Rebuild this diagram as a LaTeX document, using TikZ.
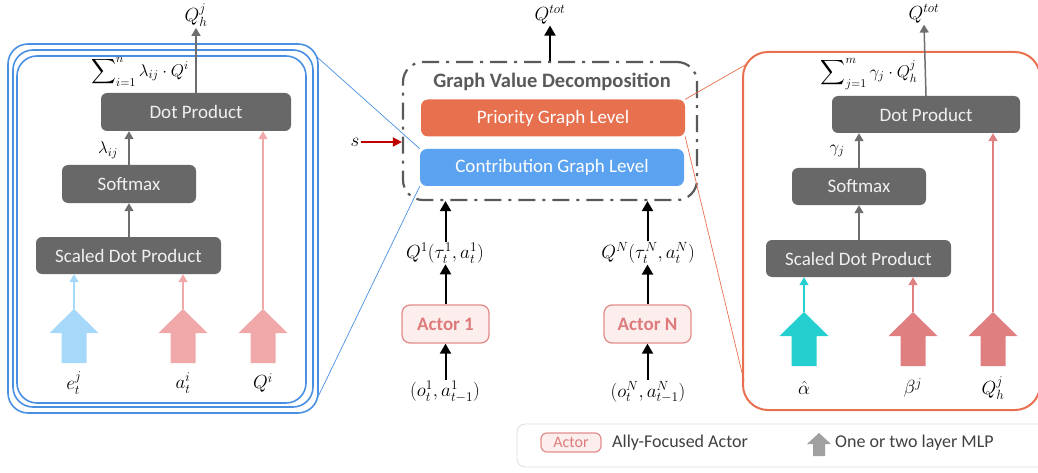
\documentclass[tikz,border=0pt]{standalone}
\usepackage{fix-cm}
\usepackage{amsmath}
\usepackage{fontspec}
\setmainfont{Carlito}
\usetikzlibrary{arrows.meta}

\definecolor{procgray}{HTML}{686868}
\definecolor{arrowgray}{HTML}{6E6E6E}
\definecolor{panelblue}{HTML}{4A90E2}
\definecolor{panelorange}{HTML}{E9704F}
\definecolor{prioorange}{HTML}{E7704F}
\definecolor{contribblue}{HTML}{5BA2F0}
\definecolor{gvdgray}{HTML}{595959}
\definecolor{actorfill}{HTML}{FDEEEE}
\definecolor{actorline}{HTML}{E38C8C}
\definecolor{actortext}{HTML}{DE7B7B}
\definecolor{skyblue}{HTML}{A6D8FA}
\definecolor{rosepink}{HTML}{F0A8A8}
\definecolor{tealcyan}{HTML}{26CFCF}
\definecolor{salmonred}{HTML}{E07F7F}
\definecolor{staterred}{HTML}{C00000}
\definecolor{legendline}{HTML}{DCDCDC}
\definecolor{legendarrow}{HTML}{A0A0A0}
\definecolor{legendtext}{HTML}{404040}

% filled block arrow (one or two layer MLP): name, x, top y, bottom y, colour
\newcommand\mlparrow[5]{%
  \fill[#5] (#2,#3) -- ({#2+24.5},{#3+24}) -- ({#2+12.5},{#3+24}) -- ({#2+12.5},#4)
    -- ({#2-12.5},#4) -- ({#2-12.5},{#3+24}) -- ({#2-24.5},{#3+24}) -- cycle;
  \coordinate (#1) at (#2,#3);}

\begin{document}
\begin{tikzpicture}[x=1pt,y=-1pt,
  proc/.style={fill=procgray, rounded corners=6pt, text=white!94!black,
    font=\fontsize{19}{22}\selectfont, inner sep=0pt},
  level/.style={rounded corners=7pt, text=white, font=\fontsize{19}{22}\selectfont,
    inner sep=0pt, minimum width=264, minimum height=37},
  actorbox/.style={draw=actorline, line width=1.3pt, fill=actorfill, rounded corners=8pt,
    text=actortext, font=\fontsize{19}{22}\selectfont\bfseries, inner sep=0pt,
    minimum width=87, minimum height=38},
  garrow/.style={draw=arrowgray, line width=1.5pt, -{Triangle[length=8pt,width=9pt]}},
  tarrow/.style={line width=1.3pt, -{Triangle[length=8pt,width=9pt]}},
  barrow/.style={draw=black, line width=2pt, -{Triangle[length=10pt,width=11pt]}},
  mlabel/.style={font=\fontsize{19}{23}\selectfont, inner sep=1pt},
  slabel/.style={font=\fontsize{17}{21}\selectfont, inner sep=1pt},
  zoomline/.style={line width=0.7pt}]
\useasboundingbox (0,0) rectangle (1038,473);

% ---------- contribution graph level panel (left) ----------
\draw[panelblue, line width=1.6pt, rounded corners=20pt] (8,44) rectangle (318,413);
\draw[panelblue, line width=1.6pt, rounded corners=20pt] (13,50) rectangle (313,407);
\draw[panelblue, line width=1.6pt, rounded corners=20pt] (17,56) rectangle (306,403);

\node[proc, minimum width=190, minimum height=38] (dpL) at (196,112) {Dot Product};
\node[proc, minimum width=134, minimum height=38] (smL) at (129,184) {Softmax};
\node[proc, minimum width=185, minimum height=37] (sdpL) at (128.5,255.5) {Scaled Dot Product};

\node[mlabel] (qhL) at (196,15) {$Q_h^{j}$};
\draw[garrow] (dpL.north) -- (qhL.south);
\node[slabel] (sumL) at (140,72) {$\displaystyle\sum\nolimits_{i=1}^{n}\lambda_{ij}\cdot Q^{i}$};
\draw[garrow] (smL.north) -- (smL.north |- dpL.south);
\node[slabel] (lamL) at (108,150) {$\lambda_{ij}$};
\draw[garrow] (sdpL.north -| smL.north) -- (smL.south);

\mlparrow{eL}{74}{309}{363}{skyblue}
\mlparrow{aL}{183}{309}{363}{rosepink}
\mlparrow{qL}{263}{309}{363}{rosepink}
\draw[tarrow, skyblue] (eL) -- (eL |- sdpL.south);
\draw[tarrow, rosepink] (aL) -- (aL |- sdpL.south);
\draw[tarrow, rosepink] (qL) -- (qL |- dpL.south);
\node[mlabel] (eLab) at (74,383) {$e_t^{j}$};
\node[mlabel] (aLab) at (183,383) {$a_t^{i}$};
\node[mlabel] (qLab) at (263,383) {$Q^{i}$};

% ---------- graph value decomposition (centre) ----------
\node[draw=gvdgray, line width=2.2pt, rounded corners=20pt,
  dash pattern=on 17pt off 7pt on 3pt off 7pt,
  minimum width=294, minimum height=138, inner sep=0pt] (gvd) at (550,131) {};
\node[text=gvdgray, font=\fontsize{20.5}{24}\selectfont\bfseries] (gvdtitle) at (552,82)
  {Graph Value Decomposition};
\node[level, fill=prioorange] (prio) at (553,118) {Priority Graph Level};
\node[level, fill=contribblue] (contrib) at (552,167.5) {Contribution Graph Level};

\node[mlabel] (qtotC) at (550,15) {$Q^{tot}$};
\draw[barrow] (gvd.north) -- (qtotC.south);

\node[mlabel] (sC) at (355,142) {$s$};
\draw[draw=staterred, line width=1.8pt, -{Triangle[length=9pt,width=9pt]}] (sC.east) -- (gvd.west |- sC.east);

\node[actorbox] (act1) at (445.5,324) {Actor 1};
\node[actorbox] (actN) at (647.5,324) {Actor N};

\node[mlabel] (q1) at (445,253) {$Q^{1}(\tau_t^{1},a_t^{1})$};
\node[mlabel] (qN) at (648,253) {$Q^{N}(\tau_t^{N},a_t^{N})$};
\node[mlabel] (o1) at (445,392) {$(o_t^{1},a_{t-1}^{1})$};
\node[mlabel] (oN) at (648,392) {$(o_t^{N},a_{t-1}^{N})$};

\draw[barrow] (o1.north -| act1.south) -- (act1.south);
\draw[barrow] (oN.north -| actN.south) -- (actN.south);
\draw[barrow] (act1.north) -- (q1.south -| act1.north);
\draw[barrow] (actN.north) -- (qN.south -| actN.north);
\draw[barrow] (q1.north -| act1.north) -- (gvd.south -| act1.north);
\draw[barrow] (qN.north -| actN.north) -- (gvd.south -| actN.north);

% ---------- priority graph level panel (right) ----------
\node[draw=panelorange, line width=2pt, rounded corners=25pt, inner sep=0pt,
  minimum width=297, minimum height=358] (rpanel) at (891.5,231) {};

\node[proc, minimum width=188, minimum height=37] (dpR) at (926,114.5) {Dot Product};
\node[proc, minimum width=134, minimum height=37] (smR) at (859,186.5) {Softmax};
\node[proc, minimum width=185, minimum height=37] (sdpR) at (858.5,258.5) {Scaled Dot Product};

\node[mlabel] (qtotR) at (924,14) {$Q^{tot}$};
\draw[garrow] (dpR.north) -- (qtotR.south);
\node[slabel] (sumR) at (869,74) {$\displaystyle\sum\nolimits_{j=1}^{m}\gamma_{j}\cdot Q_h^{j}$};
\draw[garrow] (smR.north) -- (smR.north |- dpR.south);
\node[slabel] (gamR) at (837,151) {$\gamma_{j}$};
\draw[garrow] (sdpR.north -| smR.north) -- (smR.south);

\mlparrow{alR}{804}{312}{366}{tealcyan}
\mlparrow{beR}{913}{312}{366}{salmonred}
\mlparrow{qhR}{993}{312}{366}{salmonred}
\draw[tarrow, tealcyan] (alR) -- (alR |- sdpR.south);
\draw[tarrow, salmonred] (beR) -- (beR |- sdpR.south);
\draw[tarrow, salmonred] (qhR) -- (qhR |- dpR.south);
\node[mlabel] (alLab) at (804,388) {$\hat{\alpha}$};
\node[mlabel] (beLab) at (913,388) {$\beta^{j}$};
\node[mlabel] (qhLab) at (993,388) {$Q_h^{j}$};

% ---------- zoom guide lines ----------
\coordinate (lpTR) at (317,57);
\coordinate (lpBR) at (316,401);
\coordinate (rpTL) at (747,64);
\coordinate (rpBL) at (744,381);
\draw[zoomline, panelblue] (contrib.north west) -- (lpTR);
\draw[zoomline, panelblue] (contrib.south west) -- (lpBR);
\draw[zoomline, panelorange] (prio.north east) -- (rpTL);
\draw[zoomline, panelorange] (prio.south east) -- (rpBL);

% ---------- legend ----------
\draw[legendline, line width=0.8pt, rounded corners=8pt] (517,424) rectangle (1060,467);
\node[draw=actorline, line width=1.2pt, fill=actorfill, rounded corners=6pt, text=actortext,
  font=\fontsize{16}{18}\selectfont, inner sep=0pt, minimum width=60, minimum height=19]
  (legactor) at (571,442.5) {Actor};
\node[anchor=west, text=legendtext, font=\fontsize{18}{21}\selectfont, inner sep=0pt]
  (legactortxt) at (612,443) {Ally-Focused Actor};
\fill[legendarrow] (819,433) -- (831,444) -- (825,444) -- (825,456) -- (813,456)
  -- (813,444) -- (807,444) -- cycle;
\node[anchor=west, text=legendtext, font=\fontsize{18}{21}\selectfont, inner sep=0pt]
  (legmlp) at (835,443) {One or two layer MLP};
\end{tikzpicture}
\end{document}
